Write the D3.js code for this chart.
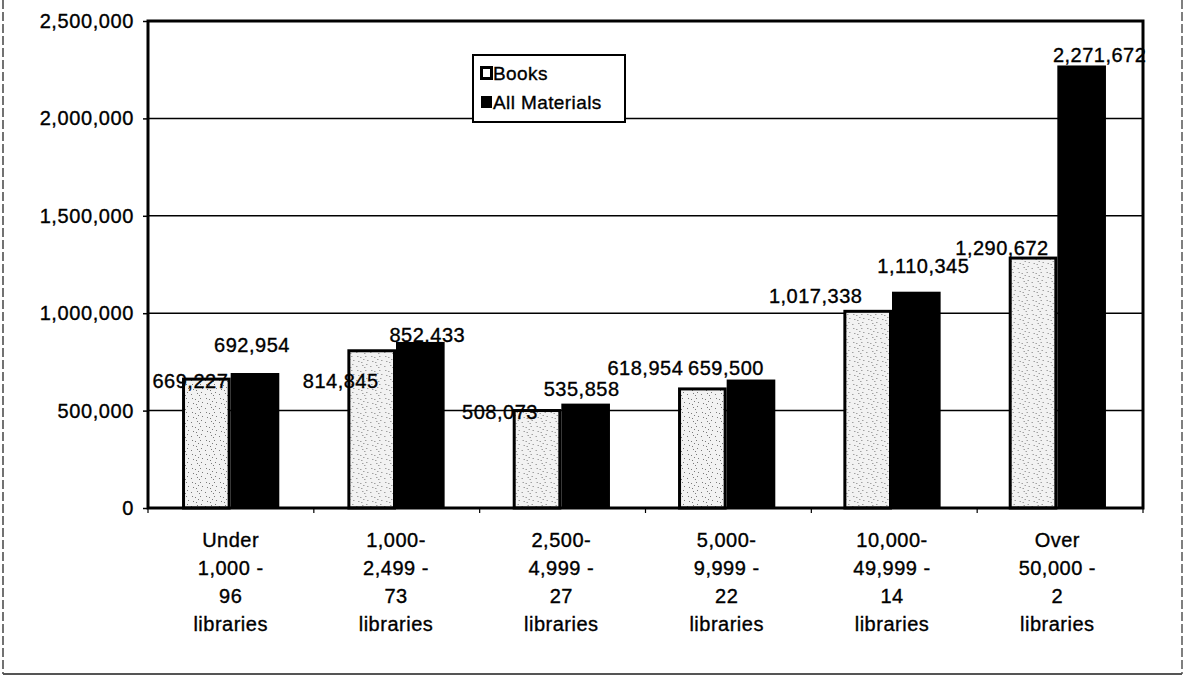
<!DOCTYPE html>
<html>
<head>
<meta charset="utf-8">
<script src="https://cdn.jsdelivr.net/npm/d3@7"></script>
<style>
  html, body { margin: 0; padding: 0; background: #fff; }
  svg { display: block; font-family: "Liberation Sans", Arial, sans-serif; }
  .txt { fill: #000; stroke: #000; stroke-width: 0.35px; }
</style>
</head>
<body>
<svg id="chart" width="1186" height="676"></svg>
<script>
// ---- data ----
const categories = [
  ["Under", "1,000 -", "96", "libraries"],
  ["1,000-", "2,499 -", "73", "libraries"],
  ["2,500-", "4,999 -", "27", "libraries"],
  ["5,000-", "9,999 -", "22", "libraries"],
  ["10,000-", "49,999 -", "14", "libraries"],
  ["Over", "50,000 -", "2", "libraries"]
];
const seriesNames = ["Books", "All Materials"];
const booksValues = [669227, 814845, 508073, 618954, 1017338, 1290672];
const allMaterialsValues = [692954, 852433, 535858, 659500, 1110345, 2271672];
const yTicks = [0, 500000, 1000000, 1500000, 2000000, 2500000];

// label placement offsets (layout only): [dx, dy] from bar top-centre
const booksLabelOffsets = [[-16, 3], [-31, 32], [-37, 3], [-57, -19], [-52, -14], [-31, -9]];
const allLabelOffsets = [[-3, -28], [7, -7], [-4, -15], [-25, -12], [7, -26], [18, -10]];

// ---- layout ----
const svg = d3.select("#chart");
const plotL = 148, plotR = 1143, plotT = 21, plotB = 508;
const fmt = d3.format(",");

const y = d3.scaleLinear().domain([0, 2500000]).range([plotB, plotT]);
const catIdx = d3.range(categories.length);
const x0 = d3.scaleBand().domain(catIdx).range([plotL, 1140]).padding(0);
const x1 = d3.scaleBand().domain(seriesNames).range([0, x0.bandwidth()]).paddingInner(0).paddingOuter(0.7);

// stipple pattern for Books
const defs = svg.append("defs");
const pat = defs.append("pattern").attr("id", "stipple").attr("patternUnits", "userSpaceOnUse")
  .attr("width", 14).attr("height", 14);
pat.append("rect").attr("width", 14).attr("height", 14).attr("fill", "#f2f2f2");
const dots = [[1,2],[5,7],[9,3],[12,10],[3,11],[7,1],[10,6],[2,6],[6,12],[11,0],[8,9]];
pat.selectAll("rect.d").data(dots).enter().append("rect").attr("class", "d")
  .attr("x", d => d[0]).attr("y", d => d[1]).attr("width", 1).attr("height", 1).attr("fill", "#7a7a7a");

// outer chart frame
svg.append("line").attr("x1", 3).attr("x2", 3).attr("y1", 0).attr("y2", 674)
  .attr("stroke", "#444").attr("stroke-width", 1.5).attr("stroke-dasharray", "9,3");
svg.append("line").attr("x1", 1182).attr("x2", 1182).attr("y1", 0).attr("y2", 674)
  .attr("stroke", "#555").attr("stroke-width", 1.5).attr("stroke-dasharray", "9,3");
svg.append("line").attr("x1", 3).attr("x2", 1182).attr("y1", 674).attr("y2", 674)
  .attr("stroke", "#555").attr("stroke-width", 2);

// gridlines
svg.append("g").selectAll("line").data(yTicks.filter(t => t > 0 && t < 2500000)).enter()
  .append("line")
  .attr("x1", plotL).attr("x2", plotR)
  .attr("y1", d => y(d)).attr("y2", d => y(d))
  .attr("stroke", "#000").attr("stroke-width", 1.5);

// y axis
const yAxis = d3.axisLeft(y).tickValues(yTicks).tickFormat(fmt).tickSize(5).tickPadding(9);
const gy = svg.append("g").attr("transform", `translate(${plotL},0)`).call(yAxis);
gy.select(".domain").remove();
gy.selectAll(".tick line").attr("stroke", "#000").attr("stroke-width", 1.5);
gy.selectAll(".tick text").attr("class", "txt").attr("font-size", 20).attr("letter-spacing", "0.6px")
  .attr("font-family", "Liberation Sans, Arial, sans-serif");

// bars
const groups = svg.append("g").selectAll("g").data(catIdx).enter().append("g")
  .attr("transform", i => `translate(${x0(i)},0)`);
groups.append("rect")
  .attr("x", x1("Books") + 1.5).attr("width", x1.bandwidth() - 3)
  .attr("y", i => y(booksValues[i]) + 1.5)
  .attr("height", i => y(0) - y(booksValues[i]) - 1.5)
  .attr("fill", "url(#stipple)").attr("stroke", "#000").attr("stroke-width", 3);
groups.append("rect")
  .attr("x", x1("All Materials")).attr("width", x1.bandwidth())
  .attr("y", i => y(allMaterialsValues[i]))
  .attr("height", i => y(0) - y(allMaterialsValues[i]))
  .attr("fill", "#000");

// plot frame
svg.append("rect").attr("x", plotL).attr("y", plotT).attr("width", plotR - plotL).attr("height", plotB - plotT)
  .attr("fill", "none").attr("stroke", "#000").attr("stroke-width", 3);

// x axis ticks & labels
const xTickPos = d3.range(categories.length + 1).map(i => plotL + i * (plotR - plotL) / categories.length);
svg.append("g").selectAll("line").data(xTickPos).enter().append("line")
  .attr("x1", d => d).attr("x2", d => d).attr("y1", plotB).attr("y2", plotB + 5)
  .attr("stroke", "#000").attr("stroke-width", 1.2);

const xl = svg.append("g").selectAll("text").data(catIdx).enter().append("text")
  .attr("class", "txt")
  .attr("x", i => x0(i) + x0.bandwidth() / 2)
  .attr("text-anchor", "middle").attr("font-size", 20).attr("letter-spacing", "0.5px");
xl.each(function(i) {
  const t = d3.select(this);
  categories[i].forEach((line, k) => {
    t.append("tspan").attr("x", x0(i) + x0.bandwidth() / 2).attr("y", 547 + k * 28).text(line);
  });
});

// value labels
const lbl = svg.append("g").attr("font-size", 20).attr("letter-spacing", "0.5px");
lbl.selectAll("text.b").data(catIdx).enter().append("text").attr("class", "txt")
  .attr("x", i => x0(i) + x1("Books") + x1.bandwidth() / 2 + booksLabelOffsets[i][0])
  .attr("y", i => y(booksValues[i]) + booksLabelOffsets[i][1])
  .attr("text-anchor", "middle").attr("dominant-baseline", "central")
  .text(i => fmt(booksValues[i]));
lbl.selectAll("text.a").data(catIdx).enter().append("text").attr("class", "txt")
  .attr("x", i => x0(i) + x1("All Materials") + x1.bandwidth() / 2 + allLabelOffsets[i][0])
  .attr("y", i => y(allMaterialsValues[i]) + allLabelOffsets[i][1])
  .attr("text-anchor", "middle").attr("dominant-baseline", "central")
  .text(i => fmt(allMaterialsValues[i]));

// legend
const lg = svg.append("g").attr("transform", "translate(473,55)");
lg.append("rect").attr("width", 152).attr("height", 67).attr("fill", "#fff")
  .attr("stroke", "#000").attr("stroke-width", 2);
const li = lg.selectAll("g").data(seriesNames).enter().append("g")
  .attr("transform", (d, k) => `translate(8,${18 + k * 29})`);
li.append("rect").attr("x", 0.5).attr("y", -5.5).attr("width", 10).attr("height", 11)
  .attr("fill", (d, k) => k === 0 ? "#fff" : "#000")
  .attr("stroke", "#000").attr("stroke-width", (d, k) => k === 0 ? 3 : 1);
li.append("text").attr("class", "txt").attr("x", 12).attr("y", 0).attr("dominant-baseline", "central")
  .attr("font-size", 19).attr("letter-spacing", "0.4px").text(d => d);
</script>
</body>
</html>
